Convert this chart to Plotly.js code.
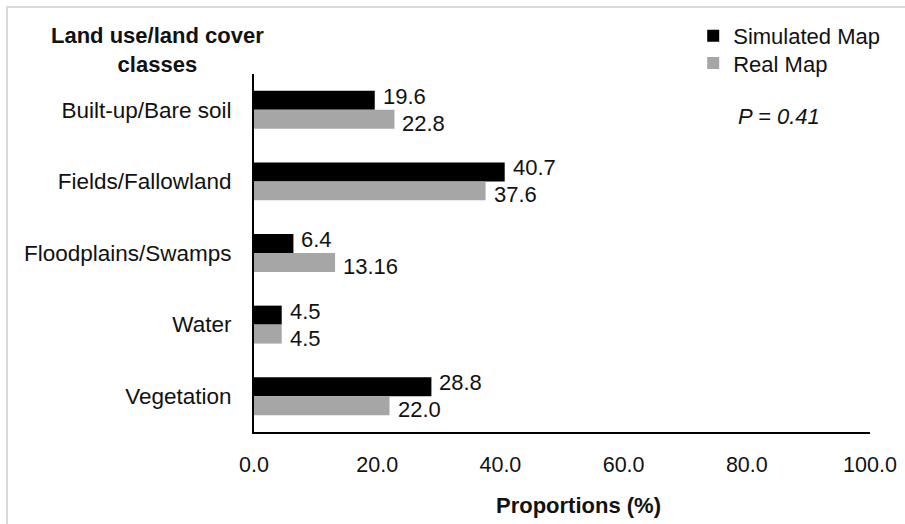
<!DOCTYPE html>
<html>
<head>
<meta charset="utf-8">
<script src="https://cdn.plot.ly/plotly-3.0.1.min.js"></script>
<style>
  html, body { margin: 0; padding: 0; background: #fff; overflow: hidden; }
  #wrap { position: relative; width: 905px; height: 524px; }
  #chart { width: 905px; height: 524px; }
  #frame { position: absolute; left: 6px; top: 6px; width: 910px; height: 530px;
           border: 2px solid #d9d9d9; pointer-events: none; box-sizing: border-box; }
</style>
</head>
<body>
<div id="wrap">
  <div id="chart"></div>
  <div id="frame"></div>
</div>
<script>
const categories = ['Built-up/Bare soil', 'Fields/Fallowland', 'Floodplains/Swamps', 'Water', 'Vegetation'];
const simulated = [19.6, 40.7, 6.4, 4.5, 28.8];
const real = [22.8, 37.6, 13.16, 4.5, 22.0];
const simulatedLabels = ['19.6', '40.7', '6.4', '4.5', '28.8'];
const realLabels = ['22.8', '37.6', '13.16', '4.5', '22.0'];
const xTickValues = [0, 20, 40, 60, 80, 100];
const xTickLabels = ['0.0', '20.0', '40.0', '60.0', '80.0', '100.0'];

const FONT = 'Liberation Sans, Arial, sans-serif';
const TXT = '#111';

const traces = [
  {
    type: 'bar', orientation: 'h', name: 'Simulated Map', legend: 'legend',
    y: categories, x: simulated,
    marker: { color: '#000000' }, hoverinfo: 'x+y'
  },
  {
    type: 'bar', orientation: 'h', name: 'Real Map', legend: 'legend2',
    y: categories, x: real,
    marker: { color: '#a6a6a6' }, hoverinfo: 'x+y'
  }
];

// value labels placed at each bar's end through the axes' own scales
function valueLabels(values, labels, yshift) {
  return values.map((v, i) => ({
    x: v, y: categories[i], xref: 'x', yref: 'y',
    text: labels[i], showarrow: false,
    xanchor: 'left', yanchor: 'middle', xshift: 6, yshift: yshift,
    font: { family: FONT, size: 22, color: TXT }
  }));
}

const legendBase = {
  xanchor: 'left', yanchor: 'top',
  font: { family: FONT, size: 22, color: TXT },
  bgcolor: 'rgba(0,0,0,0)'
};

const layout = {
  width: 905, height: 524,
  margin: { l: 254, r: 35, t: 74, b: 92 },
  paper_bgcolor: '#ffffff', plot_bgcolor: '#ffffff',
  font: { family: FONT, size: 22, color: TXT },
  barmode: 'group', bargap: 0.47, bargroupgap: 0,
  showlegend: true,
  legend: Object.assign({}, legendBase, { x: 0.713, y: 1.165 }),
  legend2: Object.assign({}, legendBase, { x: 0.713, y: 1.089 }),
  xaxis: {
    range: [0, 100], tickvals: xTickValues, ticktext: xTickLabels,
    showgrid: false, zeroline: false, showline: true, linecolor: '#000', linewidth: 2,
    ticks: '', ticklabelstandoff: 12,
    tickfont: { family: FONT, size: 21.5, color: TXT }
  },
  yaxis: {
    type: 'category', autorange: 'reversed',
    showgrid: false, zeroline: false, showline: true, linecolor: '#000', linewidth: 2,
    ticks: '', ticklabelstandoff: 16,
    tickfont: { family: FONT, size: 22.5, color: TXT }
  },
  annotations: [
    {
      text: '<b>Land use/land cover</b><br><b>classes</b>',
      xref: 'paper', yref: 'paper', x: -0.156, y: 1.067,
      xanchor: 'center', yanchor: 'middle', showarrow: false,
      font: { family: FONT, size: 22, color: TXT }
    },
    {
      text: '<i>P = 0.41</i>',
      xref: 'paper', yref: 'paper', x: 0.852, y: 0.88,
      xanchor: 'center', yanchor: 'middle', showarrow: false,
      font: { family: FONT, size: 22, color: TXT }
    },
    {
      text: '<b>Proportions (%)</b>',
      xref: 'paper', yref: 'paper', x: 0.526, y: -0.204,
      xanchor: 'center', yanchor: 'middle', showarrow: false,
      font: { family: FONT, size: 22, color: TXT }
    }
  ].concat(valueLabels(simulated, simulatedLabels, 13.5), valueLabels(real, realLabels, -13.5))
};

Plotly.newPlot('chart', traces, layout, { displayModeBar: false, staticPlot: true });
</script>
</body>
</html>
